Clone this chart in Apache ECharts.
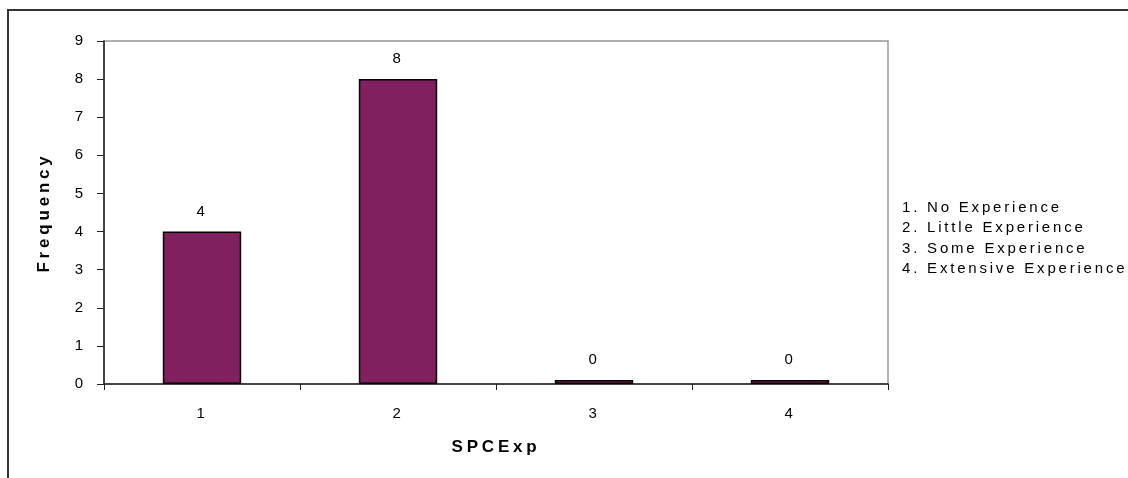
<!DOCTYPE html>
<html>
<head>
<meta charset="utf-8">
<script src="https://cdn.jsdelivr.net/npm/echarts@6/dist/echarts.min.js"></script>
<style>
  html, body { margin: 0; padding: 0; background: #fff; }
  #chart { width: 1128px; height: 478px; }
</style>
</head>
<body>
<div id="chart"></div>
<script>
// SPC experience responses
const categories = ['1', '2', '3', '4'];
const frequency = [4, 8, 0, 0];
const legendLines = [
  '1. No Experience',
  '2. Little Experience',
  '3. Some Experience',
  '4. Extensive Experience'
];

// Wide-tracked lettering for all canvas text (drawing and measuring alike);
// bold titles get slightly wider tracking than regular text.
(function () {
  const proto = CanvasRenderingContext2D.prototype;
  if (!('letterSpacing' in proto)) return;
  const track = ctx => (/bold/.test(ctx.font) ? '3.8px' : '2.8px');
  const origFill = proto.fillText;
  const origStroke = proto.strokeText;
  const origMeasure = proto.measureText;
  proto.fillText = function () { this.letterSpacing = track(this); return origFill.apply(this, arguments); };
  proto.strokeText = function () { this.letterSpacing = track(this); return origStroke.apply(this, arguments); };
  proto.measureText = function () { this.letterSpacing = track(this); return origMeasure.apply(this, arguments); };
})();

const font = '"Liberation Sans", Arial, sans-serif';
const chart = echarts.init(document.getElementById('chart'), null, { renderer: 'canvas' });

const legendText = legendLines.map((t, i) => ({
  type: 'text',
  left: 902,
  top: 199 + i * 20.3,
  style: { text: t, font: '15px ' + font, fill: '#000' }
}));

chart.setOption({
  animation: false,
  backgroundColor: '#fff',
  grid: {
    left: 104, top: 41, width: 784, height: 343,
    show: true, borderColor: '#999999', borderWidth: 1.5, backgroundColor: 'transparent'
  },
  xAxis: {
    type: 'category',
    data: categories,
    name: 'SPCExp',
    nameLocation: 'middle',
    nameGap: 53,
    nameTextStyle: { fontFamily: font, fontSize: 17, fontWeight: 'bold', color: '#000' },
    axisLine: { lineStyle: { color: '#222', width: 1.5 } },
    axisTick: { show: true, length: 6, alignWithLabel: false, lineStyle: { color: '#222' } },
    axisLabel: { fontFamily: font, fontSize: 15, color: '#000', margin: 21 }
  },
  yAxis: {
    type: 'value',
    min: 0, max: 9, interval: 1,
    name: 'Frequency',
    nameLocation: 'middle',
    nameGap: 49,
    nameTextStyle: { fontFamily: font, fontSize: 17, fontWeight: 'bold', color: '#000' },
    axisLine: { show: true, lineStyle: { color: '#222', width: 1.5 } },
    axisTick: { show: true, length: 7, lineStyle: { color: '#222' } },
    axisLabel: { fontFamily: font, fontSize: 15, color: '#000', margin: 18 },
    splitLine: { show: false }
  },
  series: [{
    type: 'bar',
    data: frequency,
    barWidth: '40%',
    barMinHeight: 4,
    itemStyle: { color: '#80205F', borderColor: '#000', borderWidth: 1.5 },
    label: {
      show: true, position: 'top', distance: 11,
      fontFamily: font, fontSize: 15, color: '#000'
    }
  }],
  graphic: [
    {
      type: 'rect',
      shape: { x: 8, y: 10, width: 1300, height: 600 },
      style: { fill: 'none', stroke: '#333', lineWidth: 2 },
      silent: true
    }
  ].concat(legendText)
});
</script>
</body>
</html>
